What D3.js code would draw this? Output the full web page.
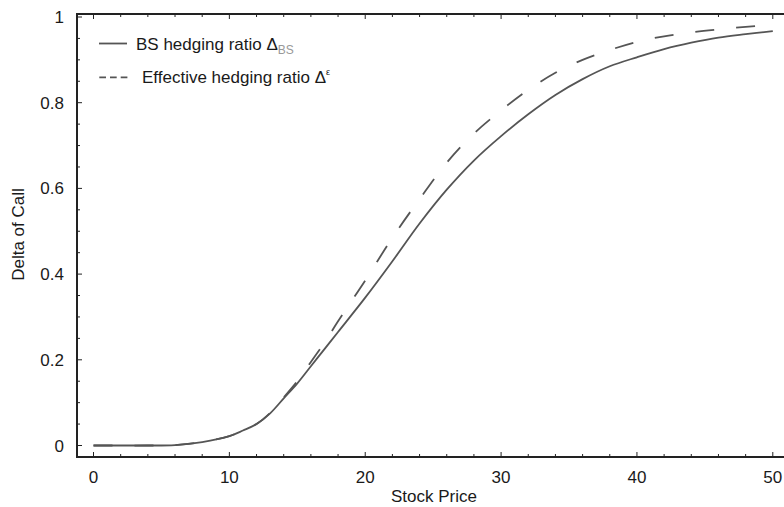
<!DOCTYPE html>
<html>
<head>
<meta charset="utf-8">
<script src="https://cdn.jsdelivr.net/npm/d3@7"></script>
<style>
  body { margin: 0; background: #fff; }
  text { font-family: "Liberation Sans", Arial, sans-serif; fill: #1a1a1a; }
</style>
</head>
<body>
<svg id="chart" width="784" height="507"></svg>
<script>
// stock price grid
const prices = [0, 2, 4, 6, 8, 10, 11, 12, 13, 14, 15, 16, 17, 18, 20, 22, 24, 26, 28, 30, 32, 34, 36, 38, 40, 42, 44, 46, 48, 50];
// BS hedging ratio
const bsDelta = [0, 0, 0, 0.001, 0.008, 0.022, 0.035, 0.05, 0.075, 0.11, 0.145, 0.185, 0.225, 0.265, 0.345, 0.43, 0.518, 0.597, 0.665, 0.722, 0.773, 0.818, 0.855, 0.885, 0.906, 0.925, 0.94, 0.952, 0.96, 0.967];
// effective hedging ratio
const effDelta = [0, 0, 0, 0.001, 0.008, 0.022, 0.035, 0.05, 0.076, 0.112, 0.15, 0.195, 0.24, 0.29, 0.385, 0.485, 0.575, 0.66, 0.728, 0.782, 0.83, 0.87, 0.9, 0.923, 0.942, 0.955, 0.964, 0.971, 0.977, 0.982];

const xTicks = [0, 10, 20, 30, 40, 50];
const yTicks = [0, 0.2, 0.4, 0.6, 0.8, 1];

const svg = d3.select("#chart");
const frameL = 77, frameR = 787, frameT = 14, frameB = 457;
const fontSize = "17px";

const x = d3.scaleLinear().domain([0, 50]).range([93.5, 772.8]);
const y = d3.scaleLinear().domain([0, 1]).range([445.5, 17]);

const g = svg.append("g");

// ticks (inward)
const minorX = d3.range(0, 51, 2);
minorX.forEach(v => {
    const len = v % 10 === 0 ? 5 : 3;
    g.append("line").attr("x1", x(v)).attr("x2", x(v)).attr("y1", frameB).attr("y2", frameB - len)
        .attr("stroke", "#222").attr("stroke-width", 1);
    g.append("line").attr("x1", x(v)).attr("x2", x(v)).attr("y1", frameT).attr("y2", frameT + len)
        .attr("stroke", "#222").attr("stroke-width", 1);
});
const minorY = d3.range(0, 21).map(i => i * 0.05);
minorY.forEach((v, i) => {
    const len = i % 4 === 0 ? 5 : 3;
    g.append("line").attr("x1", frameL).attr("x2", frameL + len).attr("y1", y(v)).attr("y2", y(v))
        .attr("stroke", "#222").attr("stroke-width", 1);
});

// frame
g.append("rect").attr("x", frameL).attr("y", frameT).attr("width", frameR - frameL).attr("height", frameB - frameT)
    .attr("fill", "none").attr("stroke", "#222").attr("stroke-width", 2);

// tick labels
g.selectAll(".xlab").data(xTicks).enter().append("text")
    .attr("x", d => x(d)).attr("y", 483)
    .attr("text-anchor", "middle").attr("font-size", fontSize)
    .text(d => d);
g.selectAll(".ylab").data(yTicks).enter().append("text")
    .attr("x", 64).attr("y", d => y(d) + 6)
    .attr("text-anchor", "end").attr("font-size", fontSize)
    .text(d => d);

// axis titles
g.append("text").attr("x", 434).attr("y", 502).attr("text-anchor", "middle").attr("font-size", fontSize).text("Stock Price");
g.append("text").attr("transform", "translate(24,234.5) rotate(-90)").attr("text-anchor", "middle").attr("font-size", fontSize).text("Delta of Call");

// curves
const line = vals => d3.line().x((d, i) => x(prices[i])).y(d => y(d)).curve(d3.curveCatmullRom)(vals);
g.append("path").attr("d", line(bsDelta)).attr("fill", "none").attr("stroke", "#555").attr("stroke-width", 1.8);
g.append("path").attr("d", line(effDelta)).attr("fill", "none").attr("stroke", "#555").attr("stroke-width", 1.8)
    .attr("stroke-dasharray", "19,22");

// legend
g.append("line").attr("x1", 99).attr("x2", 127).attr("y1", 43.5).attr("y2", 43.5).attr("stroke", "#555").attr("stroke-width", 1.8);
g.append("line").attr("x1", 99.3).attr("x2", 128).attr("y1", 77.3).attr("y2", 77.3).attr("stroke", "#555").attr("stroke-width", 1.8)
    .attr("stroke-dasharray", "6.7,4");
const t1 = g.append("text").attr("x", 136).attr("y", 50).attr("font-size", fontSize);
t1.append("tspan").text("BS hedging ratio Δ");
t1.append("tspan").attr("dy", 4).attr("font-size", "12px").attr("fill", "#999").text("BS");
const t2 = g.append("text").attr("x", 142).attr("y", 83).attr("font-size", fontSize);
t2.append("tspan").text("Effective hedging ratio Δ");
t2.append("tspan").attr("dy", -8).attr("font-size", "9px").text("ε");
</script>
</body>
</html>
